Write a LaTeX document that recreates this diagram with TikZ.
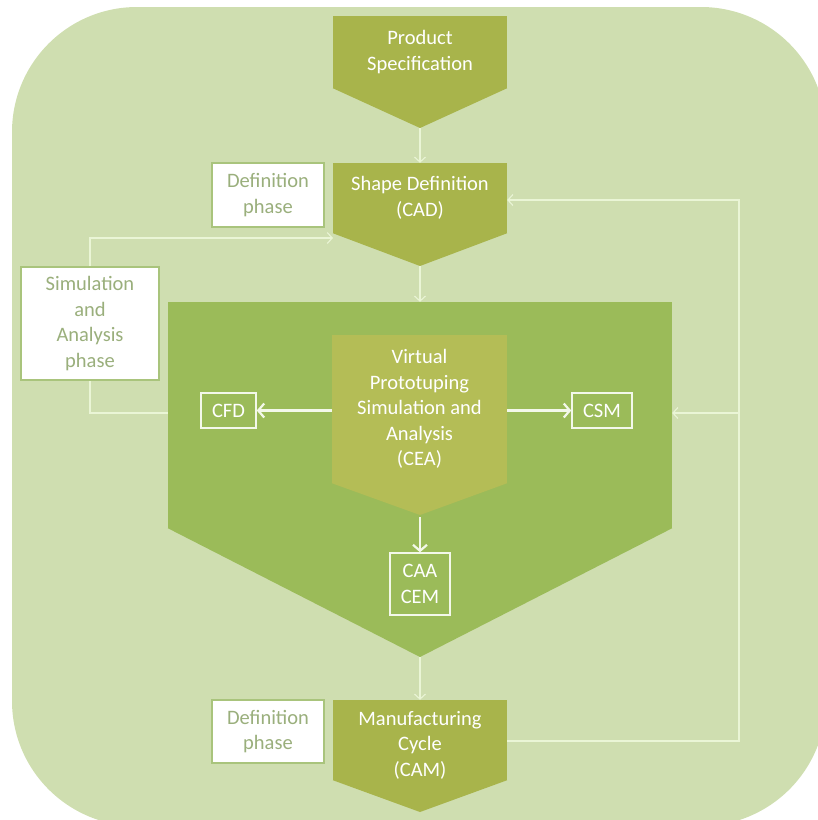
\documentclass[tikz,border=0pt]{standalone}
\usepackage{fontspec}
\setmainfont{Carlito}
\usetikzlibrary{arrows.meta,calc}

\definecolor{bgc}{HTML}{CFDEB0}
\definecolor{oliv}{HTML}{A8B44B}
\definecolor{olivlt}{HTML}{B4BD56}
\definecolor{leaf}{HTML}{9BBB59}
\definecolor{frame}{HTML}{A9C47C}
\definecolor{phasetxt}{HTML}{9AAF7C}
\definecolor{thinln}{HTML}{EAF5D6}
\definecolor{boldln}{HTML}{F3F8EA}

\tikzset{
  lbl/.style={font=\fontsize{20.5}{25.5}\selectfont, align=center, inner sep=0pt},
  stagebox/.style={lbl, fill=oliv, text=white, minimum width=174pt},
  phasebox/.style={lbl, fill=white, draw=frame, line width=1.6pt, text=phasetxt},
  toolbox/.style={lbl, draw=boldln, line width=1.5pt, text=white},
  thinarrow/.style={draw=thinln, line width=1.1pt,
    -{Straight Barb[length=5pt,width=11pt,line width=1.1pt]}},
  boldarrow/.style={draw=boldln, line width=2.4pt,
    -{Straight Barb[length=6pt,width=14pt,line width=2.2pt]}}
}

\begin{document}
\begin{tikzpicture}[x=1pt,y=-1pt]
\useasboundingbox (0,0) rectangle (818,820);

% backdrop
\fill[bgc, rounded corners=125pt] (12,7) rectangle (826,826);

% the big simulation stage (rectangle body plus arrow point)
\node[fill=leaf, minimum width=504pt, minimum height=226pt, inner sep=0pt] (sim) at (420,415) {};
\coordinate (simtip) at (420,657);
\fill[leaf] (sim.south west) -- (sim.south east) -- (simtip) -- cycle;

% inner virtual prototyping stage
\node[lbl, fill=olivlt, text=white, minimum width=175pt, minimum height=148pt] (vp) at (419.5,409)
  {Virtual\\Prototuping\\Simulation and\\Analysis\\(CEA)};
\coordinate (vptip) at (420,515);
\fill[olivlt] (vp.south west) -- (vp.south east) -- (vptip) -- cycle;

% product specification
\node[stagebox, minimum height=72pt] (ps) at (420,52) {Product\\Specification};
\coordinate (pstip) at (420,128);
\fill[oliv] (ps.south west) -- (ps.south east) -- (pstip) -- cycle;

% shape definition
\node[stagebox, minimum height=70pt] (sd) at (420,198) {Shape Definition\\(CAD)};
\coordinate (sdtip) at (420,266);
\fill[oliv] (sd.south west) -- (sd.south east) -- (sdtip) -- cycle;

% manufacturing
\node[stagebox, minimum height=80pt] (mc) at (420,740) {};
\node[lbl, text=white] (mctext) at (420,745) {Manufacturing\\Cycle\\(CAM)};
\coordinate (mctip) at (420,812);
\fill[oliv] (mc.south west) -- (mc.south east) -- (mctip) -- cycle;

% tool boxes
\node[toolbox, minimum width=55pt, minimum height=35pt] (cfd) at (228.5,410.5) {CFD};
\node[toolbox, minimum width=60pt, minimum height=35pt] (csm) at (602,410.5) {CSM};
\node[toolbox, minimum width=60pt, minimum height=62pt] (caa) at (420,584) {CAA\\CEM};

% main flow
\draw[thinarrow] (pstip) -- (sd.north);
\draw[thinarrow] (sdtip) -- (sim.north);
\draw[thinarrow] (simtip) -- (mc.north);

% bold arrows inside the simulation stage
\draw[boldarrow] (vp.west |- cfd.east) -- (cfd.east);
\draw[boldarrow] (vp.east |- csm.west) -- (csm.west);
\draw[boldarrow] (vptip) ++(0,2) -- (caa.north);

% feedback loop on the left
\coordinate (lbot) at (90,413);
\coordinate (ltop) at (90,238);
\coordinate (sdin) at (333,238);
\draw[thinarrow] (sim.west |- lbot) -- (lbot) -- (ltop) -- (sdin);

% feedback loop on the right
\coordinate (rbot) at (739,741);
\coordinate (rtop) at (739,200);
\draw[thinarrow] (mc.east |- rbot) -- (rbot) -- (rtop) -- (sd.east |- rtop);
\coordinate (rmid) at (739,413);
\draw[thinarrow] (rmid) -- (sim.east |- rmid);

% phase labels
\node[phasebox, minimum width=112pt, minimum height=64pt] (def1) at (268,195) {Definition\\phase};
\node[phasebox, minimum width=138pt, minimum height=113pt] (simph) at (90,323.5) {Simulation\\and\\Analysis\\phase};
\node[phasebox, minimum width=112pt, minimum height=63pt] (def2) at (268,731.5) {Definition\\phase};
\end{tikzpicture}
\end{document}
